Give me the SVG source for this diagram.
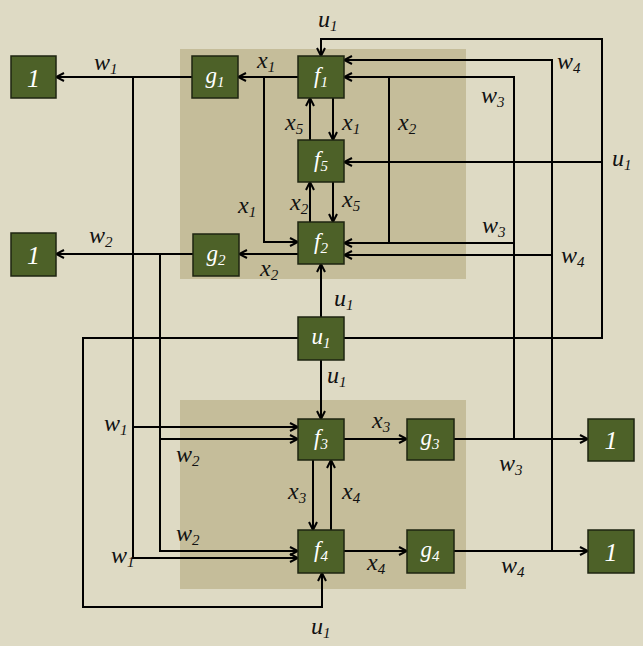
<svg xmlns="http://www.w3.org/2000/svg" width="643" height="646" viewBox="0 0 643 646">
<defs>
<marker id="ah" viewBox="0 0 10 10" refX="9" refY="5" markerWidth="10" markerHeight="10" markerUnits="userSpaceOnUse" orient="auto">
<path d="M1,1 L9,5 L1,9" fill="none" stroke="#000" stroke-width="2"/>
</marker>
<style>
.n{fill:#4D6128;stroke:#1E2410;stroke-width:1.5}
.nt{font-family:"Liberation Serif",serif;font-style:italic;font-size:23px;fill:#fff;text-anchor:middle}
.one{font-size:26px}
.l{font-family:"Liberation Serif",serif;font-style:italic;font-size:24px;fill:#111}
.s{font-size:15px}
.c path{fill:none;stroke:#000;stroke-width:2}
.a{marker-end:url(#ah)}
</style>
</defs>
<rect x="0" y="0" width="643" height="646" fill="#DEDAC4"/>
<rect x="180" y="49" width="286" height="230" fill="#C5BD9A"/>
<rect x="180" y="400" width="286" height="189" fill="#C5BD9A"/>

<g class="c" id="connectors">
<path class="a" d="M298,77 H238"/>
<path class="a" d="M192,77 H56"/>
<path class="a" d="M264,77 V242 H298"/>
<path class="a" d="M133,77 V558 H298"/>
<path class="a" d="M133,427 H298"/>
<path class="a" d="M333,98 V140"/>
<path class="a" d="M310,140 V98"/>
<path class="a" d="M333,182 V222"/>
<path class="a" d="M310,222 V182"/>
<path class="a" d="M298,254 H239"/>
<path class="a" d="M193,254 H56"/>
<path class="a" d="M160,254 V551 H298"/>
<path class="a" d="M160,439 H298"/>
<path class="a" d="M454,439 H588"/>
<path class="a" d="M514,439 V77 H344"/>
<path class="a" d="M514,243 H344"/>
<path d="M389,77 V243"/>
<path class="a" d="M454,551 H588"/>
<path class="a" d="M552,551 V60 H344"/>
<path class="a" d="M552,255 H344"/>
<path class="a" d="M344,338 H602 V39 H321 V56"/>
<path class="a" d="M602,162 H344"/>
<path class="a" d="M298,338 H83 V607 H322 V573"/>
<path class="a" d="M321,317 V264"/>
<path class="a" d="M321,360 V419"/>
<path class="a" d="M344,439 H407"/>
<path class="a" d="M313,460 V530"/>
<path class="a" d="M331,530 V460"/>
<path class="a" d="M344,551 H407"/>
</g>

<g id="out_w1"><rect class="n" x="11" y="56" width="45" height="42"/><text class="nt one" x="33.5" y="87">1</text></g>
<g id="g1"><rect class="n" x="192" y="56" width="46" height="42"/><text class="nt" x="215" y="83">g<tspan class="s" dy="4">1</tspan></text></g>
<g id="f1"><rect class="n" x="298" y="56" width="46" height="42"/><text class="nt" x="321" y="83">f<tspan class="s" dy="4">1</tspan></text></g>
<g id="f5"><rect class="n" x="298" y="140" width="46" height="42"/><text class="nt" x="321" y="167">f<tspan class="s" dy="4">5</tspan></text></g>
<g id="f2"><rect class="n" x="298" y="222" width="46" height="42"/><text class="nt" x="321" y="249">f<tspan class="s" dy="4">2</tspan></text></g>
<g id="g2"><rect class="n" x="193" y="234" width="46" height="42"/><text class="nt" x="216" y="261">g<tspan class="s" dy="4">2</tspan></text></g>
<g id="out_w2"><rect class="n" x="11" y="233" width="45" height="43"/><text class="nt one" x="33.5" y="264">1</text></g>
<g id="u1"><rect class="n" x="298" y="317" width="46" height="43"/><text class="nt" x="321" y="344">u<tspan class="s" dy="4">1</tspan></text></g>
<g id="f3"><rect class="n" x="298" y="419" width="46" height="41"/><text class="nt" x="321" y="445">f<tspan class="s" dy="4">3</tspan></text></g>
<g id="g3"><rect class="n" x="407" y="419" width="47" height="41"/><text class="nt" x="430" y="445">g<tspan class="s" dy="4">3</tspan></text></g>
<g id="out_w3"><rect class="n" x="588" y="419" width="46" height="42"/><text class="nt one" x="611" y="449">1</text></g>
<g id="f4"><rect class="n" x="298" y="530" width="46" height="43"/><text class="nt" x="321" y="557">f<tspan class="s" dy="4">4</tspan></text></g>
<g id="g4"><rect class="n" x="407" y="530" width="47" height="43"/><text class="nt" x="430" y="557">g<tspan class="s" dy="4">4</tspan></text></g>
<g id="out_w4"><rect class="n" x="588" y="530" width="46" height="43"/><text class="nt one" x="611" y="561">1</text></g>

<g id="labels">
<text class="l" x="318" y="27">u<tspan class="s" dy="4">1</tspan></text>
<text class="l" x="94" y="70">w<tspan class="s" dy="4">1</tspan></text>
<text class="l" x="257" y="68">x<tspan class="s" dy="4">1</tspan></text>
<text class="l" x="557" y="69">w<tspan class="s" dy="4">4</tspan></text>
<text class="l" x="481" y="103">w<tspan class="s" dy="4">3</tspan></text>
<text class="l" x="285" y="130">x<tspan class="s" dy="4">5</tspan></text>
<text class="l" x="342" y="130">x<tspan class="s" dy="4">1</tspan></text>
<text class="l" x="398" y="130">x<tspan class="s" dy="4">2</tspan></text>
<text class="l" x="612" y="166">u<tspan class="s" dy="4">1</tspan></text>
<text class="l" x="238" y="213">x<tspan class="s" dy="4">1</tspan></text>
<text class="l" x="290" y="210">x<tspan class="s" dy="4">2</tspan></text>
<text class="l" x="342" y="207">x<tspan class="s" dy="4">5</tspan></text>
<text class="l" x="89" y="243">w<tspan class="s" dy="4">2</tspan></text>
<text class="l" x="482" y="233">w<tspan class="s" dy="4">3</tspan></text>
<text class="l" x="561" y="263">w<tspan class="s" dy="4">4</tspan></text>
<text class="l" x="260" y="276">x<tspan class="s" dy="4">2</tspan></text>
<text class="l" x="334" y="306">u<tspan class="s" dy="4">1</tspan></text>
<text class="l" x="327" y="383">u<tspan class="s" dy="4">1</tspan></text>
<text class="l" x="104" y="431">w<tspan class="s" dy="4">1</tspan></text>
<text class="l" x="372" y="428">x<tspan class="s" dy="4">3</tspan></text>
<text class="l" x="176" y="462">w<tspan class="s" dy="4">2</tspan></text>
<text class="l" x="499" y="471">w<tspan class="s" dy="4">3</tspan></text>
<text class="l" x="288" y="499">x<tspan class="s" dy="4">3</tspan></text>
<text class="l" x="342" y="499">x<tspan class="s" dy="4">4</tspan></text>
<text class="l" x="176" y="541">w<tspan class="s" dy="4">2</tspan></text>
<text class="l" x="111" y="563">w<tspan class="s" dy="4">1</tspan></text>
<text class="l" x="367" y="570">x<tspan class="s" dy="4">4</tspan></text>
<text class="l" x="501" y="573">w<tspan class="s" dy="4">4</tspan></text>
<text class="l" x="311" y="634">u<tspan class="s" dy="4">1</tspan></text>
</g>
</svg>
